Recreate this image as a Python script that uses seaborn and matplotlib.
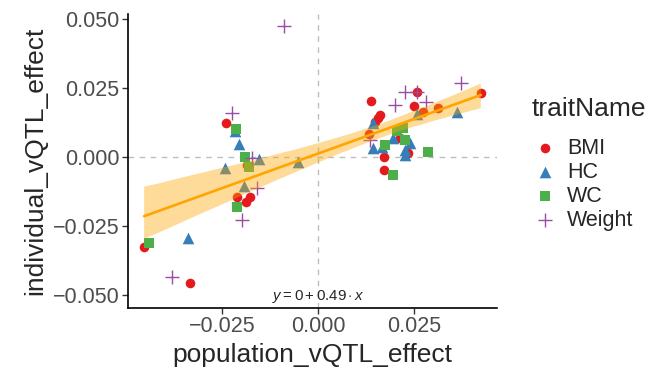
import numpy as np
import pandas as pd
import matplotlib
matplotlib.use("Agg")
import matplotlib.pyplot as plt
import seaborn as sns

# population vs individual vQTL effects
bmi_x = [-0.0240, -0.0186, -0.0212, -0.0177, -0.0188, -0.0453, -0.0333, 0.0138, 0.0161,
         0.0155, 0.0149, 0.0257, 0.0250, 0.0273, 0.0313, 0.0424, 0.0133, 0.0214, 0.0234,
         0.0173, 0.0173]
bmi_y = [0.0122, -0.0029, -0.0144, -0.0144, -0.0164, -0.0325, -0.0455, 0.0204, 0.0152,
         0.0140, 0.0128, 0.0237, 0.0185, 0.0162, 0.0179, 0.0231, 0.0083, 0.0068, 0.0016,
         -0.0001, -0.0047]
hc_x = [-0.0216, -0.0207, -0.0155, -0.0242, -0.0194, -0.0338, -0.0051, 0.0144, 0.0257,
        0.0361, 0.0194, 0.0240, 0.0144, 0.0166, 0.0227, 0.0227]
hc_y = [0.0094, 0.0046, -0.0007, -0.0041, -0.0104, -0.0295, -0.0017, 0.0122, 0.0155,
        0.0162, 0.0068, 0.0050, 0.0032, 0.0037, 0.0025, 0.0007]
wc_x = [-0.0213, -0.0190, -0.0180, -0.0212, -0.0440, 0.0222, 0.0205, 0.0227, 0.0174,
        0.0286, 0.0196]
wc_y = [0.0101, 0.0001, -0.0037, -0.0180, -0.0313, 0.0104, 0.0095, 0.0062, 0.0043,
        0.0019, -0.0065]
weight_x = [-0.0088, -0.0225, -0.0173, -0.0160, -0.0199, -0.0381, 0.0227, 0.0257, 0.0281,
            0.0200, 0.0135, 0.0372]
weight_y = [0.0475, 0.0160, -0.0002, -0.0111, -0.0228, -0.0436, 0.0237, 0.0237, 0.0200,
            0.0188, 0.0062, 0.0267]

traits = ["BMI", "HC", "WC", "Weight"]
trait_colors = ["#E41A1C", "#377EB8", "#4DAF4A", "#984EA3"]
trait_markers = ["o", "^", "s", "+"]
trait_sizes = [48, 70, 55, 110]

x_ticks = [-0.025, 0.0, 0.025]
x_tick_labels = ["\u22120.025", "0.000", "0.025"]
y_ticks = [-0.05, -0.025, 0.0, 0.025, 0.05]
y_tick_labels = ["\u22120.050", "\u22120.025", "0.000", "0.025", "0.050"]
equation = r"$y = 0 + 0.49 \cdot x$"

df = pd.concat([
    pd.DataFrame({"population_vQTL_effect": x, "individual_vQTL_effect": y, "traitName": t})
    for t, x, y in zip(traits, [bmi_x, hc_x, wc_x, weight_x], [bmi_y, hc_y, wc_y, weight_y])
], ignore_index=True)

sns.set_style("white")
plt.rcParams["font.family"] = ["Liberation Sans", "DejaVu Sans"]
plt.rcParams["mathtext.fontset"] = "custom"
plt.rcParams["mathtext.rm"] = "Liberation Sans"
plt.rcParams["mathtext.it"] = "Liberation Sans:italic"

fig = plt.figure(figsize=(6.68, 3.73), dpi=100)
ax = fig.add_axes([0.1916, 0.1743, 0.5524, 0.7882])

# reference lines at zero
ax.axhline(0, color="#BEBEBE", lw=1, ls=(0, (4, 4)), zorder=1)
ax.axvline(0, color="#BEBEBE", lw=1, ls=(0, (4, 4)), zorder=1)

for t, c, m, s in zip(traits, trait_colors, trait_markers, trait_sizes):
    sub = df[df["traitName"] == t]
    kw = dict(linewidth=1.0) if m == "+" else dict(linewidth=0)
    sns.scatterplot(data=sub, x="population_vQTL_effect", y="individual_vQTL_effect",
                    color=c, marker=m, s=s, ax=ax, label=t, zorder=2, **kw)

# linear fit with confidence band drawn over the points
n_before = len(ax.collections)
sns.regplot(data=df, x="population_vQTL_effect", y="individual_vQTL_effect",
            scatter=False, color="#FFA500", ci=95, n_boot=2000, seed=1, ax=ax,
            line_kws=dict(lw=1.9, zorder=4))
for coll in ax.collections[n_before:]:
    coll.set_alpha(0.4)
    coll.set_zorder(3)
    coll.set_edgecolor("none")

ax.text(0.0, -0.0505, equation, ha="center", va="center", fontsize=10.8, zorder=5)

ax.set_xlim(-0.0495, 0.0466)
ax.set_ylim(-0.0547, 0.0518)
ax.set_xticks(x_ticks)
ax.set_xticklabels(x_tick_labels)
ax.set_yticks(y_ticks)
ax.set_yticklabels(y_tick_labels)
ax.tick_params(axis="both", length=4, width=1, color="#333333", labelcolor="#4D4D4D",
               labelsize=15.5, pad=2, direction="out", bottom=True, left=True)
for side in ["top", "right"]:
    ax.spines[side].set_visible(False)
for side in ["left", "bottom"]:
    ax.spines[side].set_color("black")
    ax.spines[side].set_linewidth(1.2)

ax.set_xlabel("population_vQTL_effect", fontsize=19, labelpad=4)
ax.set_ylabel("individual_vQTL_effect", fontsize=19, labelpad=4)

leg = ax.legend(title="traitName", loc="center left", bbox_to_anchor=(0.78, 0.56),
                bbox_transform=fig.transFigure, frameon=False, fontsize=15.5,
                title_fontsize=19, alignment="left", handletextpad=0.45,
                labelspacing=0.14, borderpad=0, handlelength=1.2)
leg._legend_box.sep = 12  # extra gap under the legend title

fig.savefig("out.png", dpi=100)
